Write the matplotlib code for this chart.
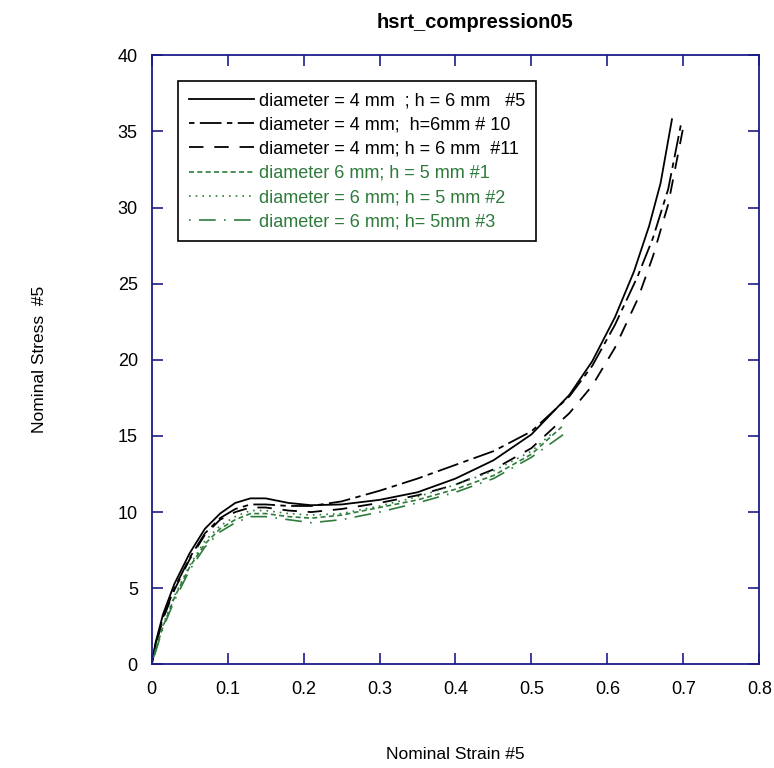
import matplotlib
matplotlib.use("Agg")
import matplotlib.pyplot as plt

plt.rcParams['font.family'] = ['Liberation Sans', 'DejaVu Sans']

# strain / stress readings for each specimen
strain_5 = [0, 0.005, 0.015, 0.03, 0.05, 0.07, 0.09, 0.11, 0.13, 0.15, 0.18, 0.21, 0.25, 0.3, 0.35, 0.4, 0.45, 0.5, 0.55, 0.58, 0.61, 0.635, 0.655, 0.67, 0.685]
stress_5 = [0, 1.4, 3.3, 5.3, 7.3, 8.9, 9.9, 10.6, 10.9, 10.9, 10.6, 10.45, 10.5, 10.8, 11.3, 12.2, 13.4, 15.1, 17.7, 19.9, 22.8, 25.8, 28.8, 31.6, 35.8]

strain_10 = [0, 0.005, 0.015, 0.03, 0.05, 0.07, 0.09, 0.11, 0.13, 0.15, 0.18, 0.21, 0.25, 0.3, 0.35, 0.4, 0.45, 0.5, 0.55, 0.58, 0.61, 0.64, 0.66, 0.68, 0.697]
stress_10 = [0, 1.3, 3.1, 5.0, 7.0, 8.6, 9.6, 10.2, 10.5, 10.5, 10.4, 10.4, 10.7, 11.4, 12.2, 13.1, 14.0, 15.3, 17.6, 19.6, 22.3, 25.5, 28.0, 31.2, 35.5]

strain_11 = [0, 0.005, 0.015, 0.03, 0.05, 0.07, 0.09, 0.11, 0.13, 0.15, 0.18, 0.21, 0.25, 0.3, 0.35, 0.4, 0.45, 0.5, 0.55, 0.58, 0.61, 0.64, 0.66, 0.68, 0.70]
stress_11 = [0, 1.2, 3.0, 4.9, 6.9, 8.5, 9.5, 10.0, 10.3, 10.3, 10.1, 10.0, 10.2, 10.6, 11.1, 11.8, 12.8, 14.2, 16.5, 18.3, 20.8, 24.0, 26.8, 30.2, 35.3]

strain_g1 = [0, 0.005, 0.015, 0.03, 0.05, 0.07, 0.09, 0.11, 0.13, 0.15, 0.18, 0.21, 0.25, 0.3, 0.35, 0.4, 0.45, 0.5, 0.54]
stress_g1 = [0, 0.9, 2.5, 4.4, 6.4, 7.9, 8.9, 9.5, 9.9, 9.9, 9.7, 9.6, 9.8, 10.3, 10.8, 11.5, 12.4, 13.8, 15.6]

strain_g2 = [0, 0.005, 0.015, 0.03, 0.05, 0.07, 0.09, 0.11, 0.13, 0.15, 0.18, 0.21, 0.25, 0.3, 0.35, 0.4, 0.45, 0.5, 0.53]
stress_g2 = [0, 1.0, 2.6, 4.5, 6.5, 8.1, 9.1, 9.7, 10.1, 10.1, 9.9, 9.8, 9.9, 10.4, 11.0, 11.8, 12.7, 14.0, 15.3]

strain_g3 = [0, 0.005, 0.015, 0.03, 0.05, 0.07, 0.09, 0.11, 0.13, 0.15, 0.18, 0.21, 0.25, 0.3, 0.35, 0.4, 0.45, 0.5, 0.545]
stress_g3 = [0, 0.8, 2.4, 4.2, 6.2, 7.7, 8.7, 9.3, 9.7, 9.7, 9.5, 9.3, 9.5, 10.0, 10.6, 11.3, 12.2, 13.6, 15.2]

labels = [
    "diameter = 4 mm  ; h = 6 mm   #5",
    "diameter = 4 mm;  h=6mm # 10",
    "diameter = 4 mm; h = 6 mm  #11",
    "diameter 6 mm; h = 5 mm #1",
    "diameter = 6 mm; h = 5 mm #2",
    "diameter = 6 mm; h= 5mm #3",
]

green = "#2e7b3c"
navy = "#1c1c8a"

fig = plt.figure(figsize=(7.74, 7.68), dpi=100)
ax = fig.add_axes([0.196, 0.135, 0.785, 0.793])

ax.plot(strain_5, stress_5, color="black", lw=1.3, ls="-", label=labels[0])
ax.plot(strain_10, stress_10, color="black", lw=1.3, ls=(0, (3, 3, 12, 3)), label=labels[1])
ax.plot(strain_11, stress_11, color="black", lw=1.3, ls=(0, (8, 6)), label=labels[2])
ax.plot(strain_g1, stress_g1, color=green, lw=1.2, ls=(0, (3, 2)), label=labels[3])
ax.plot(strain_g2, stress_g2, color=green, lw=1.2, ls=(0, (1, 3)), label=labels[4])
ax.plot(strain_g3, stress_g3, color=green, lw=1.2, ls=(0, (1, 5, 10, 5)), label=labels[5])

ax.set_xlim(0, 0.8)
ax.set_ylim(0, 40)
ax.set_xticks([0, 0.1, 0.2, 0.3, 0.4, 0.5, 0.6, 0.7, 0.8])
ax.set_xticklabels(["0", "0.1", "0.2", "0.3", "0.4", "0.5", "0.6", "0.7", "0.8"])
ax.set_yticks([0, 5, 10, 15, 20, 25, 30, 35, 40])

for s in ax.spines.values():
    s.set_color(navy)
    s.set_linewidth(1.3)
ax.tick_params(direction="in", length=8, width=1.2, color=navy,
               top=True, right=True, labelsize=13)
ax.tick_params(axis="x", pad=12)
ax.tick_params(axis="y", pad=10)

ax.set_title("hsrt_compression05", fontsize=14.5, fontweight="bold", pad=20, x=0.532)
ax.set_xlabel("Nominal Strain #5", fontsize=12.5, labelpad=35)
ax.set_ylabel("Nominal Stress  #5", fontsize=12.5, labelpad=51)

leg = ax.legend(loc="upper left", bbox_to_anchor=(0.043, 0.957), borderaxespad=0,
                fontsize=13, handlelength=3.6, handletextpad=0.3,
                labelspacing=0.4, fancybox=False, framealpha=1,
                edgecolor="black", borderpad=0.6)
leg.get_frame().set_linewidth(1.2)
for i, t in enumerate(leg.get_texts()):
    t.set_color("black" if i < 3 else green)

fig.savefig("out.png", dpi=100)
